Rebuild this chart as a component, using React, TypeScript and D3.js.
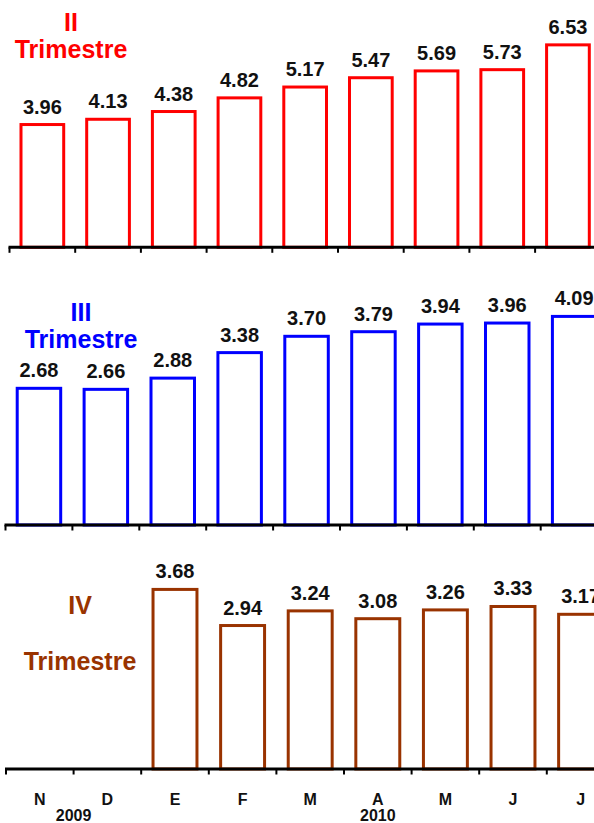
import React from "react";
import * as d3 from "d3";

const months = ["N", "D", "E", "F", "M", "A", "M", "J", "J"];
const years = [
  { label: "2009", at: 1 },
  { label: "2010", at: 5.5 },
];
const q2Values: (number | null)[] = [3.96, 4.13, 4.38, 4.82, 5.17, 5.47, 5.69, 5.73, 6.53];
const q3Values: (number | null)[] = [2.68, 2.66, 2.88, 3.38, 3.7, 3.79, 3.94, 3.96, 4.09];
const q4Values: (number | null)[] = [null, null, 3.68, 2.94, 3.24, 3.08, 3.26, 3.33, 3.17];
const titles = [
  ["II", "Trimestre"],
  ["III", "Trimestre"],
  ["IV", "Trimestre"],
];

const W = 594;
const H = 823;
const FONT = "'Liberation Sans', Arial, sans-serif";

type Panel = {
  values: (number | null)[];
  title: string[];
  color: string;
  x0: number;
  step: number;
  axisY: number;
  yMax: number;
  pxPerUnit: number;
  titleX: number;
  titleY: [number, number];
};

const panels: Panel[] = [
  { values: q2Values, title: titles[0], color: "#FF0000", x0: 9.5, step: 65.7, axisY: 247.3, yMax: 7, pxPerUnit: 31, titleX: 71, titleY: [31, 58] },
  { values: q3Values, title: titles[1], color: "#0000FF", x0: 5.5, step: 66.9, axisY: 525, yMax: 5, pxPerUnit: 51, titleX: 81, titleY: [321, 348] },
  { values: q4Values, title: titles[2], color: "#993300", x0: 6, step: 67.6, axisY: 769, yMax: 5, pxPerUnit: 48.8, titleX: 80, titleY: [614, 670] },
];

function PanelView({ p, showLabels }: { p: Panel; showLabels: boolean }) {
  const idx = months.map((_, i) => i);
  const x = d3
    .scaleBand<number>()
    .domain(idx)
    .range([p.x0, p.x0 + p.step * months.length])
    .paddingInner(0.35)
    .paddingOuter(0.175);
  const y = d3
    .scaleLinear()
    .domain([0, p.yMax])
    .range([p.axisY, p.axisY - p.yMax * p.pxPerUnit]);
  const step = x.step();
  const ticks = d3.range(months.length + 1).map((i) => p.x0 + i * step);
  return (
    <g>
      {p.values.map((v, i) =>
        v == null ? null : (
          <g key={i}>
            <rect
              x={x(i)!}
              y={y(v)}
              width={x.bandwidth()}
              height={y(0) - y(v)}
              fill="white"
              stroke={p.color}
              strokeWidth={3}
            />
            <text
              x={x(i)! + x.bandwidth() / 2}
              y={y(v) - 11}
              textAnchor="middle"
              fontFamily={FONT}
              fontWeight="bold"
              fontSize={20}
              fill="#111"
            >
              {v.toFixed(2)}
            </text>
          </g>
        )
      )}
      <line x1={p.x0 - 1} x2={W + 5} y1={p.axisY} y2={p.axisY} stroke="black" strokeWidth={3} />
      {ticks.map((t, i) => (
        <line key={i} x1={t} x2={t} y1={p.axisY} y2={p.axisY + 5.5} stroke="black" strokeWidth={2} />
      ))}
      <text x={p.titleX} y={p.titleY[0]} textAnchor="middle" fontFamily={FONT} fontWeight="bold" fontSize={25} fill={p.color}>
        {p.title[0]}
      </text>
      <text x={p.titleX} y={p.titleY[1]} textAnchor="middle" fontFamily={FONT} fontWeight="bold" fontSize={25} fill={p.color}>
        {p.title[1]}
      </text>
      {showLabels &&
        months.map((m, i) => (
          <text
            key={i}
            x={x(i)! + x.bandwidth() / 2}
            y={805}
            textAnchor="middle"
            fontFamily={FONT}
            fontWeight="bold"
            fontSize={16}
            fill="#111"
          >
            {m}
          </text>
        ))}
      {showLabels &&
        years.map((yr) => (
          <text
            key={yr.label}
            x={p.x0 + step * yr.at}
            y={821}
            textAnchor="middle"
            fontFamily={FONT}
            fontWeight="bold"
            fontSize={16}
            fill="#111"
          >
            {yr.label}
          </text>
        ))}
    </g>
  );
}

export default function App() {
  return (
    <div style={{ position: "absolute", left: 0, top: 0, width: W, height: H, background: "white" }}>
      <svg width={W} height={H} viewBox={`0 0 ${W} ${H}`} style={{ display: "block" }}>
        <rect x={0} y={0} width={W} height={H} fill="white" />
        {panels.map((p, i) => (
          <PanelView key={i} p={p} showLabels={i === 2} />
        ))}
      </svg>
    </div>
  );
}
